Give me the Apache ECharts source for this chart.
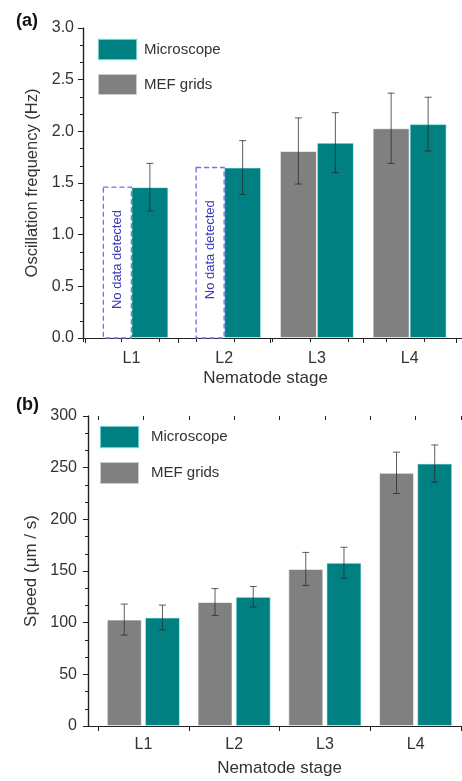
<!DOCTYPE html>
<html>
<head>
<meta charset="utf-8">
<script src="https://cdn.jsdelivr.net/npm/echarts@6/dist/echarts.min.js"></script>
<style>
html,body{margin:0;padding:0;background:#fff;}
#chart{width:462px;height:781px;}
</style>
</head>
<body>
<div id="chart"></div>
<script>
// ---------- data ----------
const categories = ['L1', 'L2', 'L3', 'L4'];
// panel (a): oscillation frequency (Hz)
const freqMicroscope = [1.46, 1.65, 1.89, 2.07];
const freqMicroscopeErr = [0.23, 0.26, 0.29, 0.26];
const freqMEF = [null, null, 1.81, 2.03];
const freqMEFErr = [null, null, 0.32, 0.34];
const noDataBoxHeight = [1.46, 1.65, null, null];
const noDataText = 'No data detected';
// panel (b): speed (um/s)
const speedMicroscope = [105, 125, 158, 254];
const speedMicroscopeErr = [12, 10, 15, 18];
const speedMEF = [103, 120, 152, 245];
const speedMEFErr = [15, 13, 16, 20];

// ---------- styles ----------
const FONT = "'Liberation Sans', Arial, sans-serif";
const TEAL = '#008080';
const GRAY = '#808080';
const AXIS = '#222';
const TXT = '#333';

function errData(vals, errs) {
  const out = [];
  vals.forEach((v, i) => { if (v != null && errs[i] != null) out.push([i, v - errs[i], v + errs[i]]); });
  return out;
}
function errRender(offsetPx) {
  return function (params, api) {
    const i = api.value(0);
    const pHi = api.coord([i, api.value(2)]);
    const pLo = api.coord([i, api.value(1)]);
    const x = pHi[0] + offsetPx;
    const cap = 3.5;
    const st = { stroke: 'rgba(40,40,40,0.75)', lineWidth: 1 };
    return {
      type: 'group',
      children: [
        { type: 'line', shape: { x1: x, y1: pHi[1], x2: x, y2: pLo[1] }, style: st },
        { type: 'line', shape: { x1: x - cap, y1: pHi[1], x2: x + cap, y2: pHi[1] }, style: st },
        { type: 'line', shape: { x1: x - cap, y1: pLo[1], x2: x + cap, y2: pLo[1] }, style: st }
      ]
    };
  };
}
function noDataRender(params, api) {
  const i = api.value(0);
  const top = api.coord([i, api.value(1)]);
  const base = api.coord([i, 0]);
  const w = 28;
  const xR = top[0];
  const xL = xR - w;
  return {
    type: 'group',
    children: [
      { type: 'rect', shape: { x: xL, y: top[1], width: w, height: base[1] - top[1] },
        style: { fill: 'rgba(255,255,255,0)', stroke: '#6f6fe6', lineWidth: 1.3, lineDash: [5, 3] } },
      { type: 'text', x: xL + w / 2, y: (top[1] + base[1]) / 2 - 3, rotation: Math.PI / 2,
        style: { text: noDataText, fill: '#3a3ab8', font: '13px ' + FONT, align: 'center', verticalAlign: 'middle' } }
    ]
  };
}
const noDataData = [];
noDataBoxHeight.forEach((h, i) => { if (h != null) noDataData.push([i, h]); });

const axisLine = { show: true, lineStyle: { color: AXIS, width: 1.2 } };
const tickStyle = { color: AXIS, width: 1 };

function frameY(grid, max, interval, fmt, name, nameGap, nameSize, labelMargin, right) {
  return {
    gridIndex: grid, type: 'value', min: 0, max: max, interval: interval,
    position: right ? 'right' : 'left',
    axisLine: axisLine,
    axisTick: { show: true, inside: !!right, length: 5, lineStyle: tickStyle },
    minorTick: { show: true, splitNumber: 3, length: 3, lineStyle: tickStyle },
    splitLine: { show: false }, minorSplitLine: { show: false },
    axisLabel: right ? { show: false } : { show: true, formatter: fmt, fontSize: 16, color: TXT, margin: labelMargin, fontFamily: FONT },
    name: right ? '' : name, nameLocation: 'middle', nameGap: nameGap,
    nameTextStyle: { fontSize: nameSize, color: TXT, fontFamily: FONT }
  };
}

const option = {
  animation: false,
  backgroundColor: '#fff',
  textStyle: { fontFamily: FONT },
  title: [
    { text: '(a)', left: 11, top: 7, textStyle: { fontSize: 18, fontWeight: 'bold', color: '#111', fontFamily: FONT } },
    { text: '(b)', left: 11, top: 391, textStyle: { fontSize: 18, fontWeight: 'bold', color: '#111', fontFamily: FONT } }
  ],
  legend: [
    { data: ['Microscope', 'MEF grids'], orient: 'vertical', left: 92, top: 33, itemWidth: 39, itemHeight: 21, itemGap: 12,
      icon: 'rect', textStyle: { fontSize: 15, color: TXT, fontFamily: FONT, padding: [0, 0, 0, 2] } },
    { data: ['Microscope', 'MEF grids'], orient: 'vertical', left: 94, top: 420, itemWidth: 39, itemHeight: 22, itemGap: 12,
      icon: 'rect', textStyle: { fontSize: 15, color: TXT, fontFamily: FONT, padding: [0, 0, 0, 7] } }
  ],
  grid: [
    { left: 83, top: 28, width: 380, height: 310 },
    { left: 85, top: 28, width: 371, height: 310 },
    { left: 88, top: 416, width: 375, height: 310 },
    { left: 98, top: 416, width: 363, height: 310 }
  ],
  xAxis: [
    { gridIndex: 0, type: 'value', min: 0, max: 1, position: 'bottom', axisLine: axisLine, axisTick: { show: false }, axisLabel: { show: false }, splitLine: { show: false } },
    { gridIndex: 0, type: 'value', min: 0, max: 10, interval: 1, position: 'top', axisLine: axisLine,
      axisTick: { show: true, inside: true, length: 4, lineStyle: tickStyle }, axisLabel: { show: false }, splitLine: { show: false } },
    { gridIndex: 1, type: 'category', data: categories, position: 'bottom', axisLine: { show: false },
      axisTick: { show: true, length: 5, interval: 0, lineStyle: tickStyle },
      axisLabel: { fontSize: 16, color: TXT, margin: 13, fontFamily: FONT },
      name: 'Nematode stage', nameLocation: 'middle', nameGap: 32,
      nameTextStyle: { fontSize: 17, color: TXT, fontFamily: FONT, padding: [0, 10, 0, 0] } },
    { gridIndex: 2, type: 'value', min: 0, max: 1, position: 'bottom', axisLine: axisLine, axisTick: { show: false }, axisLabel: { show: false }, splitLine: { show: false } },
    { gridIndex: 2, type: 'value', min: 0, max: 1, position: 'top', axisLine: axisLine, axisTick: { show: false }, axisLabel: { show: false }, splitLine: { show: false } },
    { gridIndex: 3, type: 'category', data: categories, position: 'bottom', axisLine: { show: false },
      axisTick: { show: true, length: 5, interval: 0, lineStyle: tickStyle },
      axisLabel: { fontSize: 16, color: TXT, margin: 11, fontFamily: FONT },
      name: 'Nematode stage', nameLocation: 'middle', nameGap: 34,
      nameTextStyle: { fontSize: 17, color: TXT, fontFamily: FONT } },
    { gridIndex: 3, type: 'value', min: 0.5, max: 4.5, interval: 0.5, position: 'top', axisLine: { show: false },
      axisTick: { show: true, inside: true, length: 4, lineStyle: tickStyle }, axisLabel: { show: false }, splitLine: { show: false } }
  ],
  yAxis: [
    frameY(0, 3, 0.5, v => v.toFixed(1), 'Oscillation frequency (Hz)', 40, 16.5, 9, false),
    frameY(0, 3, 0.5, null, '', 0, 16, 8, true),
    { gridIndex: 1, type: 'value', min: 0, max: 3, show: false },
    frameY(2, 300, 50, v => String(v), 'Speed (\u03bcm / s)', 47, 17, 11, false),
    frameY(2, 300, 50, null, '', 0, 16, 8, true),
    { gridIndex: 3, type: 'value', min: 0, max: 300, show: false }
  ],
  series: [
    { name: 'MEF grids', type: 'bar', xAxisIndex: 2, yAxisIndex: 2, data: freqMEF, barWidth: 37, barGap: '0%',
      itemStyle: { color: GRAY, borderColor: 'rgba(255,255,255,0.6)', borderWidth: 1 } },
    { name: 'Microscope', type: 'bar', xAxisIndex: 2, yAxisIndex: 2, data: freqMicroscope, barWidth: 37, barGap: '0%',
      itemStyle: { color: TEAL, borderColor: 'rgba(200,255,250,0.6)', borderWidth: 1 } },
    { type: 'custom', xAxisIndex: 2, yAxisIndex: 2, renderItem: noDataRender, data: noDataData, encode: { x: 0, y: 1 }, z: 5, silent: true },
    { type: 'custom', xAxisIndex: 2, yAxisIndex: 2, renderItem: errRender(-18.5), data: errData(freqMEF, freqMEFErr), encode: { x: 0, y: [1, 2] }, z: 10, silent: true },
    { type: 'custom', xAxisIndex: 2, yAxisIndex: 2, renderItem: errRender(18.5), data: errData(freqMicroscope, freqMicroscopeErr), encode: { x: 0, y: [1, 2] }, z: 10, silent: true },

    { name: 'MEF grids', type: 'bar', xAxisIndex: 5, yAxisIndex: 5, data: speedMEF, barWidth: 35, barGap: '9%',
      itemStyle: { color: GRAY, borderColor: 'rgba(255,255,255,0.6)', borderWidth: 1 } },
    { name: 'Microscope', type: 'bar', xAxisIndex: 5, yAxisIndex: 5, data: speedMicroscope, barWidth: 35, barGap: '9%',
      itemStyle: { color: TEAL, borderColor: 'rgba(200,255,250,0.6)', borderWidth: 1 } },
    { type: 'custom', xAxisIndex: 5, yAxisIndex: 5, renderItem: errRender(-19.1), data: errData(speedMEF, speedMEFErr), encode: { x: 0, y: [1, 2] }, z: 10, silent: true },
    { type: 'custom', xAxisIndex: 5, yAxisIndex: 5, renderItem: errRender(19.1), data: errData(speedMicroscope, speedMicroscopeErr), encode: { x: 0, y: [1, 2] }, z: 10, silent: true }
  ]
};
const chart = echarts.init(document.getElementById('chart'), null, { renderer: 'canvas' });
chart.setOption(option);
</script>
</body>
</html>
